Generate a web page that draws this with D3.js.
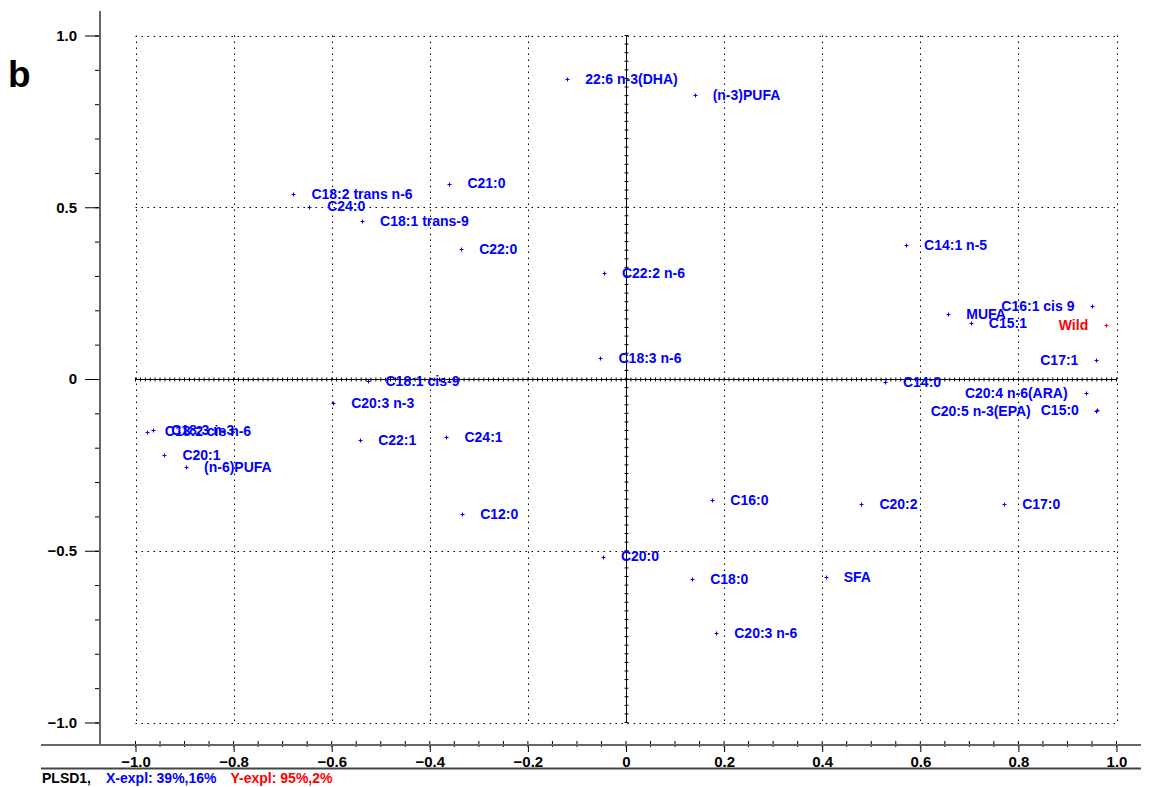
<!DOCTYPE html>
<html>
<head>
<meta charset="utf-8">
<script src="https://cdn.jsdelivr.net/npm/d3@7"></script>
<style>
  html, body { margin: 0; padding: 0; background: #fff; }
  svg { display: block; font-family: "Liberation Sans", Arial, Helvetica, sans-serif; }
  .lbl { font-size: 14px; font-weight: bold; }
  .tick text { font-size: 15px; font-weight: bold; fill: #000; }
</style>
</head>
<body>
<svg id="chart" width="1151" height="787"></svg>
<script>
// PLS loadings plot (panel b)

// variable names, loadings on X (PC1) and Y (PC2), and which block they belong to
const names = [
  '22:6 n-3(DHA)', '(n-3)PUFA', 'C21:0', 'C18:2 trans n-6', 'C24:0', 'C18:1 trans-9',
  'C22:0', 'C22:2 n-6', 'C14:1 n-5', 'C16:1 cis 9', 'MUFA', 'C15:1', 'Wild',
  'C17:1', 'C18:3 n-6', 'C18:1 cis-9', 'C14:0', 'C20:4 n-6(ARA)', 'C20:3 n-3',
  'C15:0', 'C20:5 n-3(EPA)', 'C22:1', 'C24:1', 'C12:0', 'C18:2 cis n-6', 'C18:3 n-3',
  'C20:1', '(n-6)PUFA', 'C16:0', 'C20:2', 'C17:0', 'C20:0', 'C18:0', 'SFA', 'C20:3 n-6'
];
const xLoad = [
  -0.120, 0.140, -0.360, -0.678, -0.646, -0.538,
  -0.336, -0.045, 0.571, 0.951, 0.657, 0.703, 0.979,
  0.959, -0.052, -0.527, 0.528, 0.937, -0.597,
  0.960, 0.958, -0.542, -0.366, -0.334, -0.977, -0.964,
  -0.941, -0.897, 0.176, 0.480, 0.771, -0.047, 0.135, 0.407, 0.184
];
const yLoad = [
  0.874, 0.826, 0.569, 0.538, 0.502, 0.459,
  0.378, 0.308, 0.390, 0.213, 0.188, 0.162, 0.157,
  0.054, 0.060, -0.007, -0.010, -0.042, -0.071,
  -0.090, -0.092, -0.178, -0.170, -0.394, -0.153, -0.149,
  -0.222, -0.257, -0.353, -0.365, -0.364, -0.517, -0.583, -0.576, -0.739
];
const block = names.map(n => n === 'Wild' ? 'Y' : 'X');

const xTicks = [-1.0, -0.8, -0.6, -0.4, -0.2, 0, 0.2, 0.4, 0.6, 0.8, 1.0];
const yTicks = [-1.0, -0.5, 0, 0.5, 1.0];
const panelLetter = 'b';
const footer = [
  { text: 'PLSD1,', block: 'none' },
  { text: 'X-expl: 39%,16%', block: 'X' },
  { text: 'Y-expl: 95%,2%', block: 'Y' }
];

const colors = { X: '#0000ff', Y: '#ff0000', none: '#000' };

const svg = d3.select('#chart');
const x = d3.scaleLinear().domain([-1, 1]).range([135.5, 1116.5]);
const y = d3.scaleLinear().domain([-1, 1]).range([722.5, 35.5]);
const axisY = 745;   // position of bottom axis line
const axisX = 100;   // position of left axis line
const fmt = d => d === 0 ? '0' : d3.format('.1f')(d);

// grid
const grid = svg.append('g').attr('stroke', '#000').attr('stroke-width', 1);
grid.selectAll('.vg').data(xTicks.filter(d => d !== 0)).enter().append('line')
    .attr('x1', d => Math.round(x(d)) + 0.5).attr('x2', d => Math.round(x(d)) + 0.5)
    .attr('y1', y(1)).attr('y2', y(-1))
    .attr('stroke-dasharray', '1.5,4.5');
grid.selectAll('.hg').data(yTicks.filter(d => d !== 0)).enter().append('line')
    .attr('y1', d => Math.round(y(d)) + 0.5).attr('y2', d => Math.round(y(d)) + 0.5)
    .attr('x1', x(-1)).attr('x2', x(1))
    .attr('stroke-dasharray', '1.5,4.5');

// zero lines with their small ticks
const x0 = Math.round(x(0)) + 0.5, y0 = Math.round(y(0)) + 0.5;
grid.append('line').attr('x1', x0).attr('x2', x0).attr('y1', y(1)).attr('y2', y(-1));
grid.append('line').attr('y1', y0).attr('y2', y0).attr('x1', x(-1)).attr('x2', x(1));
grid.selectAll('.zx').data(d3.range(-100, 101).map(i => i / 100)).enter().append('line')
    .attr('x1', d => x(d)).attr('x2', d => x(d)).attr('y1', y0 - 2).attr('y2', y0 + 2);
grid.selectAll('.zy').data(d3.range(-40, 41).map(i => i / 40)).enter().append('line')
    .attr('y1', d => y(d)).attr('y2', d => y(d)).attr('x1', x0 - 2).attr('x2', x0 + 2);

// left axis
const yAxisMinor = d3.axisLeft(y).tickValues(d3.range(-10, 11).map(i => i / 10))
    .tickSize(5).tickFormat('');
const yAxis = d3.axisLeft(y).tickValues(yTicks).tickSize(15).tickPadding(8).tickFormat(fmt);
svg.append('g').attr('transform', `translate(${axisX},0)`).call(yAxisMinor).call(g => g.select('.domain').remove());
svg.append('g').attr('transform', `translate(${axisX},0)`).call(yAxis).call(g => g.select('.domain').remove());

// bottom axis
const xAxis = d3.axisBottom(x).tickValues(xTicks).tickSize(7).tickPadding(4).tickFormat(fmt);
svg.append('g').attr('transform', `translate(0,${axisY})`).call(xAxis).call(g => g.select('.domain').remove());
svg.append('g').selectAll('line').data(d3.range(-20, 21).map(i => i / 20)).enter().append('line')
    .attr('x1', d => x(d)).attr('x2', d => x(d)).attr('y1', axisY - 4).attr('y2', axisY + 2)
    .attr('stroke', '#000');
svg.selectAll('.tick line').attr('stroke', '#000');

// axis frame lines
svg.append('line').attr('x1', axisX).attr('x2', axisX).attr('y1', 11).attr('y2', axisY)
    .attr('stroke', '#666').attr('stroke-width', 2);
svg.append('line').attr('x1', 41).attr('x2', 1141).attr('y1', axisY).attr('y2', axisY)
    .attr('stroke', '#666').attr('stroke-width', 2);
svg.append('line').attr('x1', 41).attr('x2', 1141).attr('y1', 768.5).attr('y2', 768.5)
    .attr('stroke', '#444').attr('stroke-width', 2);

// points
const pts = names.map((n, i) => ({ name: n, x: xLoad[i], y: yLoad[i], block: block[i] }));
const pg = svg.append('g');
pg.selectAll('path').data(pts).enter().append('path')
    .attr('d', d => {
      const px = Math.round(x(d.x)) + 0.5, py = Math.round(y(d.y)) + 0.5;
      return `M${px - 2},${py}H${px + 2}M${px},${py - 2}V${py + 2}`;
    })
    .attr('stroke', d => colors[d.block]).attr('stroke-width', 1).attr('fill', 'none');

// labels: to the right of the point, or to the left near the right edge
const placedLeft = [];
pg.selectAll('text').data(pts).enter().append('text')
    .attr('class', 'lbl')
    .attr('fill', d => colors[d.block])
    .attr('y', d => y(d.y))
    .attr('dy', '0.35em')
    .text(d => d.name)
    .each(function (d) {
      const t = d3.select(this);
      const w = this.getComputedTextLength();
      if (d.x > 0.85) {
        let right = x(d.x) - 18;
        const top = y(d.y) - 7, bottom = y(d.y) + 7;
        placedLeft.forEach(b => {
          if (top < b.bottom && bottom > b.top && right > b.left && right - w < b.right) right = b.left - 10;
        });
        placedLeft.push({ left: right - w, right, top, bottom });
        t.attr('x', right).attr('text-anchor', 'end');
      } else {
        t.attr('x', x(d.x) + 18);
      }
    });

// panel letter
svg.append('text').attr('x', 8).attr('y', 87).attr('font-size', 37).attr('font-weight', 'bold')
    .text(panelLetter);

// footer
const ft = svg.append('text').attr('x', 42).attr('y', 783).attr('font-size', 14).attr('font-weight', 'bold');
footer.forEach((f, i) => {
  ft.append('tspan').attr('fill', colors[f.block]).attr('dx', i === 0 ? 0 : (i === 1 ? 15 : 14)).text(f.text);
});
</script>
</body>
</html>
